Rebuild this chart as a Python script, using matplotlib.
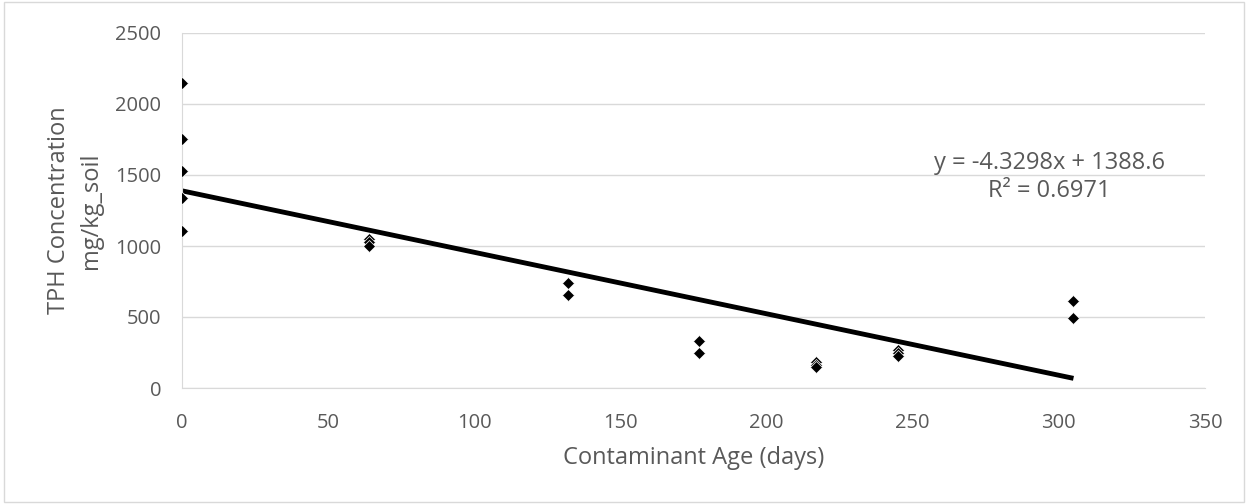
import numpy as np
import matplotlib.pyplot as plt

plt.rcParams['font.family'] = ['Open Sans', 'DejaVu Sans']

# contaminant age (days) and TPH concentration (mg/kg soil)
age = [0, 0, 0, 0, 0,
       64, 64, 64,
       132, 132,
       177, 177,
       217, 217, 217,
       245, 245, 245,
       305, 305]
tph = [2146, 1750, 1525, 1337, 1104,
       1050, 1030, 1000,
       738, 655,
       330, 250,
       180, 160, 145,
       265, 245, 225,
       610, 490]

slope = -4.3298
intercept = 1388.6
r2 = 0.6971

xticks = [0, 50, 100, 150, 200, 250, 300, 350]
yticks = [0, 500, 1000, 1500, 2000, 2500]

fig = plt.figure(figsize=(12.48, 5.04), dpi=100)
ax = fig.add_axes([182 / 1248, 1 - 388 / 504, (1205 - 182) / 1248, (388 - 33) / 504])

ax.set_xlim(0, 350)
ax.set_ylim(0, 2500)
ax.set_xticks(xticks)
ax.set_yticks(yticks)
ax.grid(axis='y', color='#d9d9d9', linewidth=1)
ax.set_axisbelow(True)
for s in ['top', 'right']:
    ax.spines[s].set_visible(False)
ax.spines['left'].set_color('#d9d9d9')
ax.spines['bottom'].set_color('#d9d9d9')
ax.tick_params(length=0, labelsize=14.5, colors='#595959')
ax.tick_params(axis='y', pad=15)
ax.tick_params(axis='x', pad=18)

ax.plot(age, tph, 'D', color='black', markersize=6,
        markeredgecolor='white', markeredgewidth=0.5, zorder=3)

fit_x = np.array([0, max(age)])
ax.plot(fit_x, slope * fit_x + intercept, color='black', linewidth=3.5,
        solid_capstyle='butt', zorder=2)

ax.text(0.848, 0.594, f'y = {slope}x + {intercept}\nR² = {r2}', transform=ax.transAxes,
        ha='center', va='center', fontsize=17, color='#595959', linespacing=1.2)

ax.set_xlabel('Contaminant Age (days)', fontsize=17, color='#595959', labelpad=9)
ax.set_ylabel('TPH Concentration\nmg/kg_soil', fontsize=17, color='#595959', labelpad=9,
              linespacing=1.4)

fig.patches.append(plt.Rectangle((0.003, 0.004), 0.994, 0.992, transform=fig.transFigure,
                                 fill=False, edgecolor='#d9d9d9', linewidth=1))

fig.savefig('out.png', dpi=100)
